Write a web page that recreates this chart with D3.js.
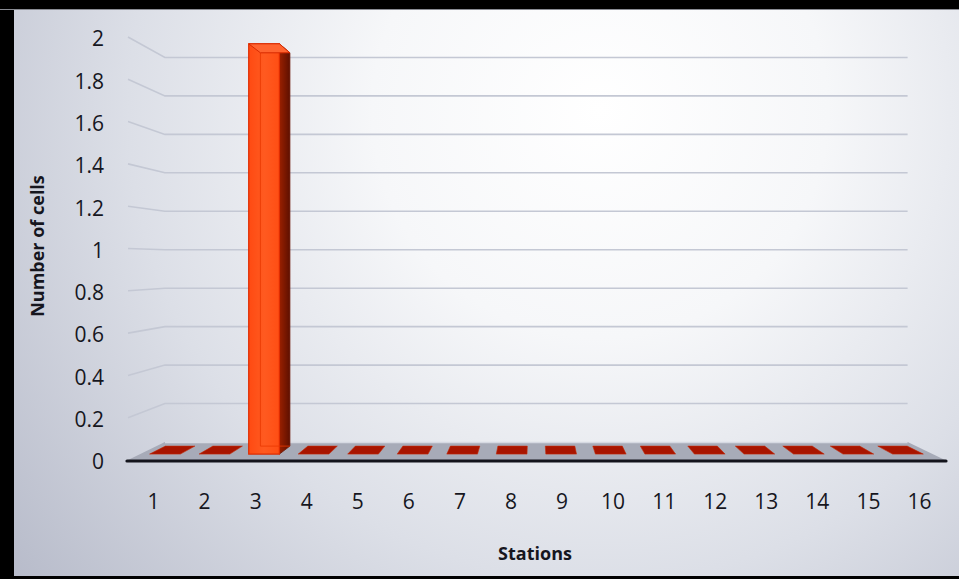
<!DOCTYPE html>
<html lang="en">
    <head>
        <meta charset="utf-8">
        <title>Number of cells by station</title>
        <style type="text/css">
            body { margin: 0; padding: 0; background: #fff; }
            svg { display: block; }
            text { font-family: "Open Sans", "DejaVu Sans", sans-serif; fill: #16161e; }
        </style>
    </head>
    <body>

<script src="https://cdnjs.cloudflare.com/ajax/libs/d3/7.8.5/d3.min.js"></script>
<script>

    // data
    var stations = ["1","2","3","4","5","6","7","8","9","10","11","12","13","14","15","16"];
    var cells = [0, 0, 2, 0, 0, 0, 0, 0, 0, 0, 0, 0, 0, 0, 0, 0];
    var yTicks = [0, 0.2, 0.4, 0.6, 0.8, 1, 1.2, 1.4, 1.6, 1.8, 2];

    var w = 959;
    var h = 579;

    // fake 3d: everything is laid out on the front plane, then pushed back
    // toward a vanishing point by a depth factor s (1 = front, sBack = back wall)
    var vpX = 534, vpY = 262;
    var sBack = 0.909;
    var sBarFront = 0.97, sBarBack = 0.93;

    var x = d3.scaleBand().domain(stations).range([128, 945]).padding(0);
    var y = d3.scaleLinear().domain([0, 2]).range([460, 37]);

    function proj(px, py, s) {
        return [vpX + (px - vpX) * s, vpY + (py - vpY) * s];
    }
    function poly(pts) {
        return pts.map(function(p){ return p[0].toFixed(1) + "," + p[1].toFixed(1); }).join(" ");
    }

    var svg = d3.select("body")
            .append("svg")
            .attr("width", w)
            .attr("height", h);

    var defs = svg.append("defs");
    var bg = defs.append("radialGradient")
            .attr("id", "bg")
            .attr("gradientUnits", "userSpaceOnUse")
            .attr("cx", 600).attr("cy", 110).attr("r", 760);
    bg.append("stop").attr("offset", 0).attr("stop-color", "#ffffff");
    bg.append("stop").attr("offset", 0.3).attr("stop-color", "#f6f7f9");
    bg.append("stop").attr("offset", 0.62).attr("stop-color", "#dcdfe7");
    bg.append("stop").attr("offset", 1).attr("stop-color", "#b6bac9");

    var sideGrad = defs.append("linearGradient").attr("id", "side")
            .attr("x1", 0).attr("x2", 1).attr("y1", 0).attr("y2", 0);
    sideGrad.append("stop").attr("offset", 0).attr("stop-color", "#9a2000");
    sideGrad.append("stop").attr("offset", 1).attr("stop-color", "#5e1000");

    var frontGrad = defs.append("linearGradient").attr("id", "front")
            .attr("x1", 0).attr("x2", 1).attr("y1", 0).attr("y2", 0);
    frontGrad.append("stop").attr("offset", 0).attr("stop-color", "#ff4a12");
    frontGrad.append("stop").attr("offset", 0.5).attr("stop-color", "#ff5a20");
    frontGrad.append("stop").attr("offset", 1).attr("stop-color", "#ff4e14");

    svg.append("rect")
        .attr("width", w).attr("height", h)
        .attr("fill", "url(#bg)");

    // gridlines: short slant on the side wall, then straight along the back wall
    var y0 = y(0);
    var left = x.range()[0], right = x.range()[1];

    svg.selectAll("polyline.grid")
        .data(yTicks.filter(function(d){ return d > 0; }))
        .enter()
        .append("polyline")
        .attr("class", "grid")
        .attr("points", function(d) {
            return poly([[left, y(d)], proj(left, y(d), sBack), proj(right, y(d), sBack)]);
        })
        .attr("fill", "none")
        .attr("stroke", "#c4c8d4")
        .attr("stroke-width", 1.6);

    // floor
    svg.append("polygon")
        .attr("points", poly([[left, y0], [right, y0], proj(right, y0, sBack), proj(left, y0, sBack)]))
        .attr("fill", "#a7abb8");
    svg.append("line")
        .attr("x1", proj(left, y0, sBack)[0]).attr("y1", proj(left, y0, sBack)[1] + 0.5)
        .attr("x2", proj(right, y0, sBack)[0]).attr("y2", proj(right, y0, sBack)[1] + 0.5)
        .attr("stroke", "#d6d9e2").attr("stroke-width", 1.5);
    svg.append("line")
        .attr("x1", left - 1).attr("y1", y0 + 1)
        .attr("x2", right + 1).attr("y2", y0 + 1)
        .attr("stroke", "#14141c").attr("stroke-width", 3.2)
        .attr("stroke-linecap", "round");

    // bars
    var half = x.bandwidth() * 0.31;
    var bars = svg.selectAll("g.bar")
        .data(stations.map(function(s, i){ return {st: s, v: cells[i]}; }))
        .enter()
        .append("g")
        .attr("class", "bar");

    bars.each(function(d) {
        var g = d3.select(this);
        var xc = x(d.st) + x.bandwidth() / 2;
        var xl = xc - half, xr = xc + half;
        var yt = y(d.v);

        if (d.v === 0) {
            g.append("polygon")
                .attr("points", poly([proj(xl, y0, sBarFront), proj(xr, y0, sBarFront),
                                      proj(xr, y0, sBarBack), proj(xl, y0, sBarBack)]))
                .attr("fill", "#a81500")
                .attr("stroke", "#c42a08")
                .attr("stroke-width", 0.6);
            return;
        }

        // side face (right side shows when the bar is left of the vanishing point)
        var sx = xc < vpX ? xr : xl;
        g.append("polygon")
            .attr("points", poly([proj(sx, y0, sBarFront), proj(sx, yt, sBarFront),
                                  proj(sx, yt, sBarBack), proj(sx, y0, sBarBack)]))
            .attr("fill", "url(#side)")
            .attr("stroke", "#6a1200")
            .attr("stroke-width", 0.8);

        g.append("polygon")
            .attr("points", poly([proj(xl, yt, sBarFront), proj(xr, yt, sBarFront),
                                  proj(xr, y0, sBarFront), proj(xl, y0, sBarFront)]))
            .attr("fill", "url(#front)")
            .attr("stroke", "#e02c00")
            .attr("stroke-width", 1.2);

        // back edges seen through the glassy front
        g.append("polyline")
            .attr("points", poly([proj(xl, yt, sBarBack), proj(xl, y0, sBarBack), proj(xr, y0, sBarBack)]))
            .attr("fill", "none")
            .attr("stroke", "#e83800")
            .attr("stroke-opacity", 0.8)
            .attr("stroke-width", 1);

        g.append("polygon")
            .attr("points", poly([proj(xl, yt, sBarFront), proj(xr, yt, sBarFront),
                                  proj(xr, yt, sBarBack), proj(xl, yt, sBarBack)]))
            .attr("fill", "#ff6430")
            .attr("stroke", "#d82a00")
            .attr("stroke-width", 1);
    });

    // y tick labels
    svg.selectAll("text.ytick")
        .data(yTicks)
        .enter()
        .append("text")
        .attr("class", "ytick")
        .attr("x", 104)
        .attr("y", function(d){ return y(d) + 2; })
        .attr("dy", "0.35em")
        .attr("text-anchor", "end")
        .style("font-size", "21px")
        .text(function(d){ return String(d); });

    // x tick labels
    svg.selectAll("text.xtick")
        .data(stations)
        .enter()
        .append("text")
        .attr("class", "xtick")
        .attr("x", function(d){ return x(d) + x.bandwidth() / 2; })
        .attr("y", 502)
        .attr("dy", "0.35em")
        .attr("text-anchor", "middle")
        .style("font-size", "21px")
        .text(function(d){ return d; });

    // axis titles
    svg.append("text")
        .attr("x", 535).attr("y", 560)
        .attr("text-anchor", "middle")
        .style("font-size", "18px").style("font-weight", "bold")
        .text("Stations");

    svg.append("text")
        .attr("transform", "translate(44,246) rotate(-90)")
        .attr("text-anchor", "middle")
        .style("font-size", "18px").style("font-weight", "bold")
        .text("Number of cells");

    // black frame on the left, top and bottom
    svg.append("rect").attr("x", 0).attr("y", 0).attr("width", 14).attr("height", h).attr("fill", "#000");
    svg.append("rect").attr("x", 0).attr("y", 0).attr("width", w).attr("height", 9).attr("fill", "#000");
    svg.append("rect").attr("x", 0).attr("y", 9).attr("width", w).attr("height", 1).attr("fill", "#8a8c94");
    svg.append("rect").attr("x", 0).attr("y", 576).attr("width", w).attr("height", 3).attr("fill", "#000");

</script>

    </body>
</html>
